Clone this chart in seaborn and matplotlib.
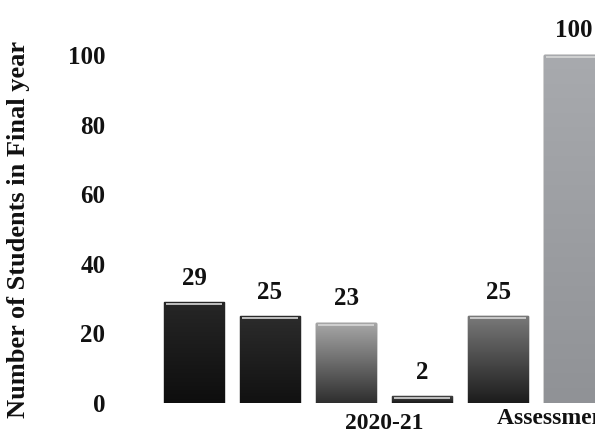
import numpy as np
import pandas as pd
import seaborn as sns
import matplotlib.pyplot as plt
from matplotlib.colors import LinearSegmentedColormap

# values
years = ["2020-21"] * 6
series = ["s1", "s2", "s3", "s4", "s5", "s6"]
students = [29, 25, 23, 2, 25, 100]
pal = ["#141414", "#1a1a1a", "#6e6e6e", "#222222", "#3c3c3c", "#9a9ca0"]
# (top, bottom) shades for the printed gradient look
shades = [("#262626", "#0e0e0e"), ("#2c2c2c", "#111111"), ("#a8a8a8", "#2e2e2e"),
          ("#444444", "#1a1a1a"), ("#7a7a7a", "#1c1c1c"), ("#a8aaae", "#909296")]

df = pd.DataFrame({"year": years, "series": series, "students": students})

sns.set_style("white")
plt.rcParams['font.family'] = ['Liberation Serif', 'DejaVu Serif']

fig = plt.figure(figsize=(5.95, 4.47), dpi=100)
ax = fig.add_axes([0.252, 0.0984, 0.748, 0.9016])

sns.barplot(data=df, x="year", y="students", hue="series", palette=pal,
            width=0.8, gap=0.2, legend=False, edgecolor="#111111",
            linewidth=1.0, ax=ax)

ax.set_xlim(-0.4105, 0.370)
ax.set_ylim(0, 115.8)

# gradient fill clipped to each bar
grad = np.linspace(0, 1, 256).reshape(-1, 1)
for cont, (top, bot) in zip(ax.containers, shades):
    for bar in cont:
        x0, y0 = bar.get_x(), bar.get_y()
        w, h = bar.get_width(), bar.get_height()
        cmap = LinearSegmentedColormap.from_list("g", [bot, top])
        im = ax.imshow(grad, cmap=cmap, aspect="auto", origin="lower",
                       extent=(x0, x0 + w, y0, y0 + h), zorder=bar.get_zorder())
        im.set_clip_path(bar)
        # thin light rim along the top
        ax.plot([x0 + w * 0.04, x0 + w * 0.96], [y0 + h - 0.6, y0 + h - 0.6],
                color="#d8d8d8", lw=1.2, zorder=bar.get_zorder() + 0.1,
                solid_capstyle="butt")
    ax.bar_label(cont, padding=9, fontsize=18, fontweight="bold", color="#111111")

ax.set_xlim(-0.4105, 0.370)
ax.set_ylim(0, 115.8)
ax.set_yticks([0, 20, 40, 60, 80, 100])
ax.tick_params(axis="y", length=0, pad=32, labelsize=18)
ax.tick_params(axis="x", length=0, pad=7, labelsize=17)
for t in ax.get_xticklabels() + ax.get_yticklabels():
    t.set_fontweight("bold")
    t.set_color("#111111")

ax.set_ylabel("Number of Students in Final year", fontsize=19,
              fontweight="bold", color="#111111")
ax.yaxis.set_label_coords(-0.27, 0.43)
ax.set_xlabel("Assessment Year", fontsize=17, fontweight="bold",
              color="#111111", ha="left", va="top")
ax.xaxis.set_label_coords(0.78, -0.012)

sns.despine(ax=ax, left=True, bottom=True)

plt.savefig("out.png", dpi=100)
